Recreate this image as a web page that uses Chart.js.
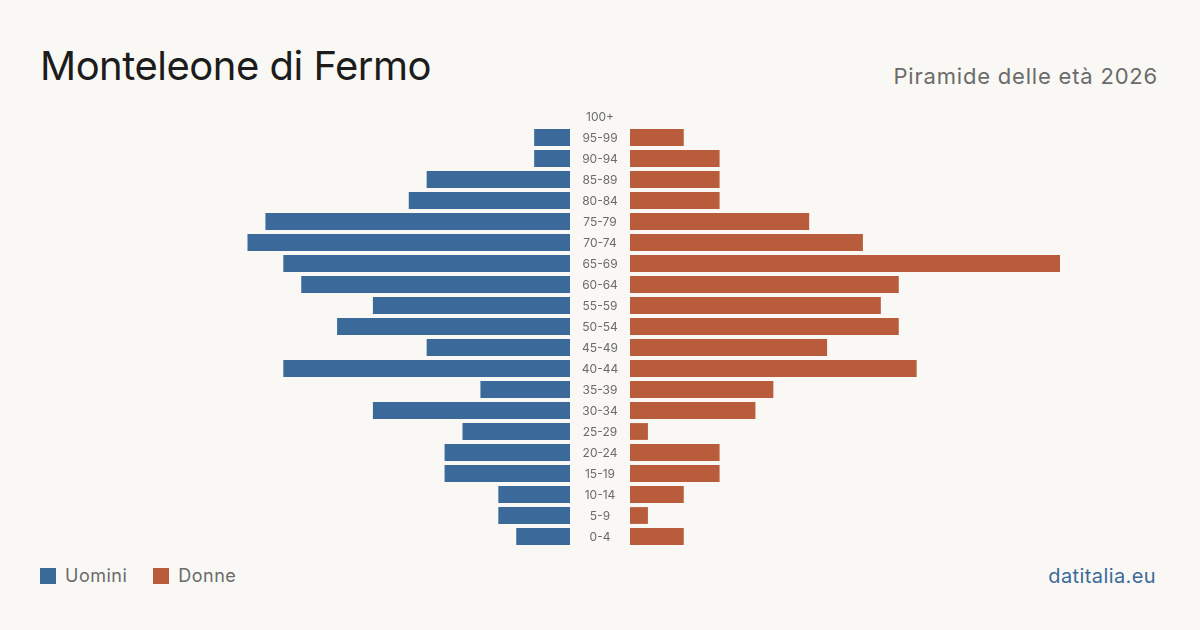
<!DOCTYPE html>
<html>
<head>
<meta charset="utf-8">
<script src="https://cdn.jsdelivr.net/npm/chart.js@4"></script>
<style>
  body { margin: 0; width: 1200px; height: 630px; background: #f9f8f4; font-family: Inter, "Noto Sans", sans-serif; position: relative; overflow: hidden; }
  .title { position: absolute; left: 40px; top: 42px; font-size: 40px; color: #1c1c1c; line-height: 48px; letter-spacing: -0.5px; }
  .subtitle { position: absolute; right: 42px; top: 62px; font-size: 22px; color: #6b6b6b; line-height: 28px; letter-spacing: 0.8px; }
  .legend { position: absolute; left: 40px; top: 565px; font-size: 18px; color: #6b6b6b; line-height: 22px; display: flex; align-items: center; letter-spacing: 0.5px; }
  .legend span.box { display: inline-block; width: 16px; height: 16px; margin-right: 9px; }
  .legend span.lab { margin-right: 26px; }
  .source { position: absolute; right: 44px; top: 563px; font-size: 20px; color: #3b6a9a; line-height: 26px; letter-spacing: 0.4px; }
  #leftWrap { position: absolute; left: 140px; top: 106px; width: 430px; height: 441px; }
  #rightWrap { position: absolute; left: 570px; top: 106px; width: 490px; height: 441px; }
</style>
</head>
<body>
<div class="title">Monteleone di Fermo</div>
<div class="subtitle">Piramide delle età 2026</div>
<div class="legend">
  <span class="box" style="background:#3b6a9a"></span><span class="lab">Uomini</span>
  <span class="box" style="background:#b95c3c"></span><span class="lab">Donne</span>
</div>
<div class="source">datitalia.eu</div>
<div id="leftWrap"><canvas id="menChart"></canvas></div>
<div id="rightWrap"><canvas id="womenChart"></canvas></div>
<script>
const ageGroups = ['100+', '95-99', '90-94', '85-89', '80-84', '75-79', '70-74', '65-69', '60-64', '55-59', '50-54',
  '45-49', '40-44', '35-39', '30-34', '25-29', '20-24', '15-19', '10-14', '5-9', '0-4'];
const men = [0, 2, 2, 8, 9, 17, 18, 16, 15, 11, 13, 8, 16, 5, 11, 6, 7, 7, 4, 4, 3];
const women = [0, 3, 5, 5, 5, 10, 13, 24, 15, 14, 15, 11, 16, 8, 7, 1, 5, 5, 3, 1, 3];
const axisMax = 24;

const blue = '#3b6a9a';
const orange = '#b95c3c';

function baseOptions(reverse, padLeft) {
  return {
    indexAxis: 'y',
    responsive: true,
    maintainAspectRatio: false,
    animation: false,
    layout: { padding: { left: padLeft, right: 0, top: 0, bottom: 0 } },
    scales: {
      x: { display: false, min: 0, max: axisMax, reverse: reverse },
      y: { display: false }
    },
    plugins: {
      legend: { display: false },
      tooltip: { enabled: false }
    }
  };
}

// Men (left side, bars grow leftwards)
new Chart(document.getElementById('menChart').getContext('2d'), {
  type: 'bar',
  data: {
    labels: ageGroups,
    datasets: [{
      data: men,
      backgroundColor: blue,
      borderWidth: 0,
      barPercentage: 0.8,
      categoryPercentage: 1
    }]
  },
  options: baseOptions(true, 0)
});

// age labels in the middle gap
const ageLabels = {
  id: 'ageLabels',
  afterDraw(chart) {
    const ctx = chart.ctx;
    const yScale = chart.scales.y;
    ctx.save();
    ctx.font = '12px Inter, "Noto Sans", sans-serif';
    ctx.fillStyle = '#6b6b6b';
    ctx.textAlign = 'center';
    ctx.textBaseline = 'middle';
    ageGroups.forEach((lab, i) => {
      ctx.fillText(lab, chart.chartArea.left - 30, yScale.getPixelForTick(i) + 1);
    });
    ctx.restore();
  }
};

// Women (right side)
new Chart(document.getElementById('womenChart').getContext('2d'), {
  type: 'bar',
  data: {
    labels: ageGroups,
    datasets: [{
      data: women,
      backgroundColor: orange,
      borderWidth: 0,
      barPercentage: 0.8,
      categoryPercentage: 1
    }]
  },
  options: baseOptions(false, 60),
  plugins: [ageLabels]
});
</script>
</body>
</html>
